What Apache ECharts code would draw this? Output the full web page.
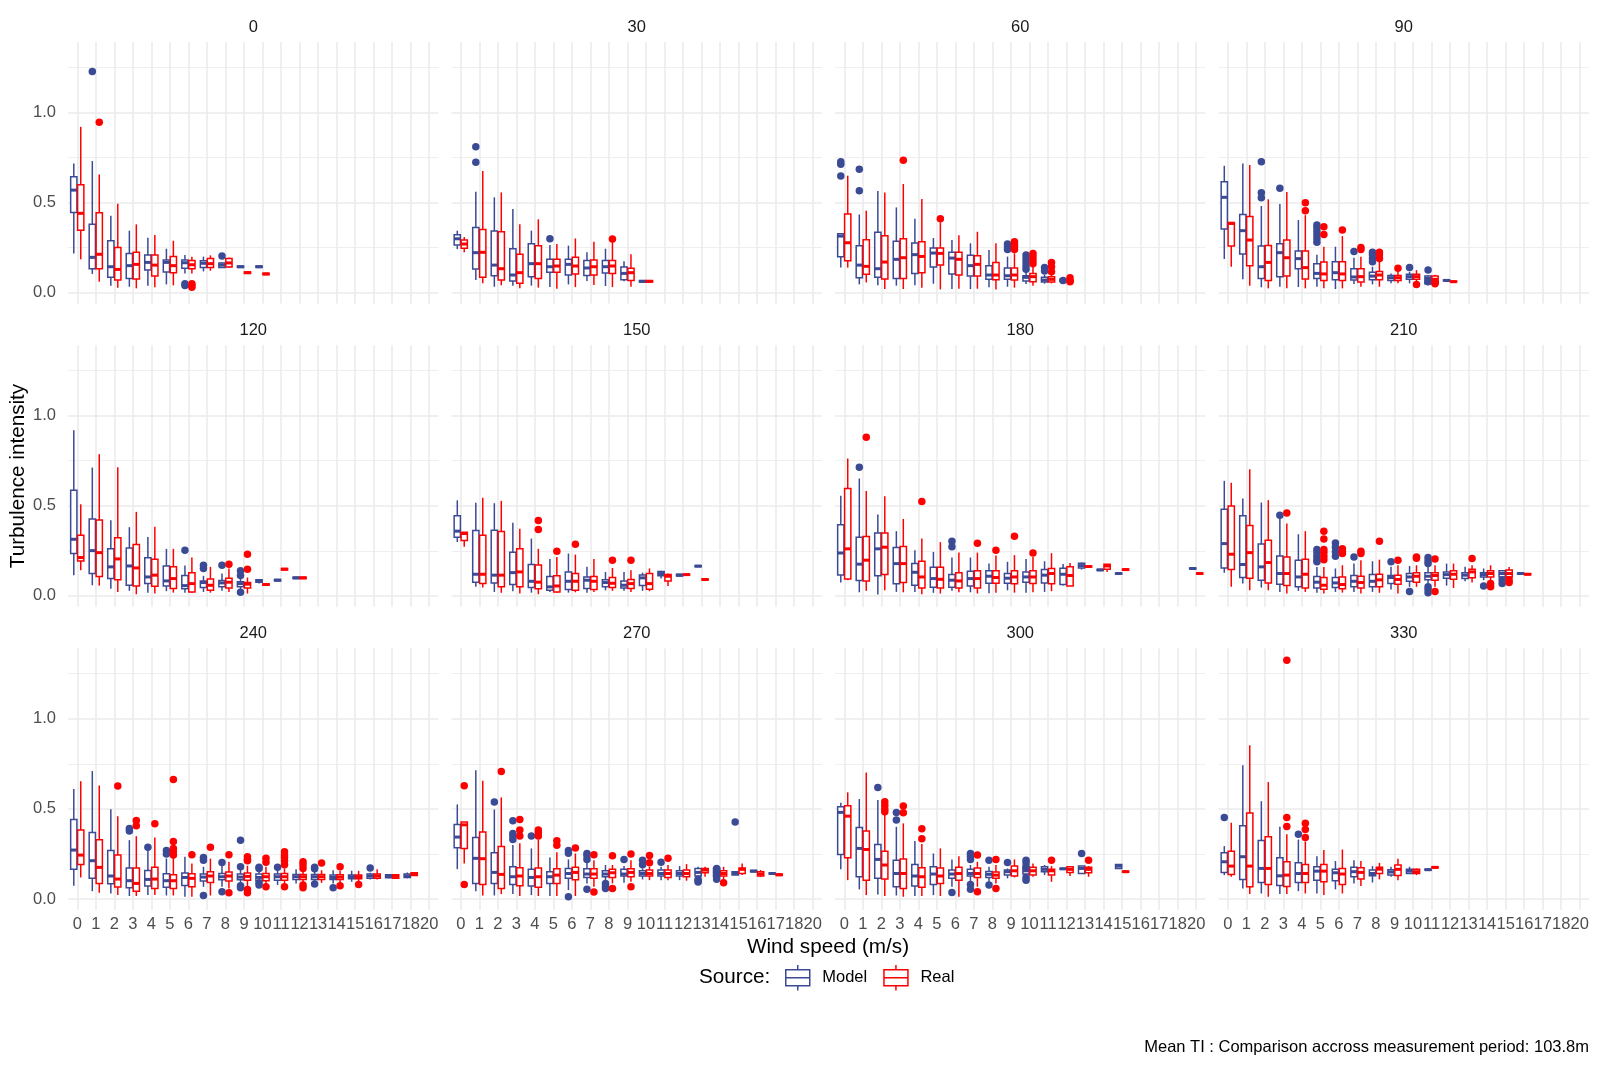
<!DOCTYPE html>
<html>
<head>
<meta charset="utf-8">
<script src="https://cdn.jsdelivr.net/npm/echarts@6/dist/echarts.min.js"></script>
<style>html,body{margin:0;padding:0;background:#fff;}#chart{width:1600px;height:1067px;}</style>
</head>
<body>
<div id="chart"></div>
<script>
// ---------------- DATA ----------------
const directions = ['0', '30', '60', '90', '120', '150', '180', '210', '240', '270', '300', '330'];
const windSpeeds = ['0','1','2','3','4','5','6','7','8','9','10','11','12','13','14','15','16','17','18','20'];
const sources = ['Model', 'Real'];
const yTickValues = [0, 0.5, 1.0];
const yMinorValues = [0.25, 0.75, 1.25];

// Box stats per wind-speed category (index in windSpeeds): [min, Q1, median, Q3, max]; null = no data
const model_0 = [[0.218,0.445,0.569,0.643,0.717],[0.104,0.133,0.196,0.379,0.73],[0.039,0.085,0.144,0.288,0.427],[0.033,0.078,0.15,0.218,0.344],[0.039,0.126,0.168,0.209,0.305],[0.046,0.115,0.168,0.181,0.244],[0.107,0.135,0.166,0.181,0.209],[0.118,0.14,0.163,0.177,0.2],[0.138,0.14,0.153,0.165,0.168],[0.14,0.14,0.144,0.148,0.148],[0.14,0.14,0.144,0.148,0.148]];
const real_0 = [[0.185,0.347,0.44,0.599,0.92],[0.061,0.133,0.213,0.444,0.656],[0.028,0.07,0.129,0.251,0.494],[0.024,0.076,0.157,0.224,0.379],[0.03,0.092,0.153,0.209,0.32],[0.041,0.111,0.15,0.201,0.288],[0.107,0.133,0.155,0.179,0.2],[0.122,0.14,0.161,0.19,0.207],[0.138,0.142,0.165,0.189,0.195],[0.107,0.107,0.111,0.115,0.115],[0.1,0.1,0.104,0.108,0.108]];
const model_30 = [[0.242,0.264,0.299,0.322,0.344],[0.07,0.131,0.222,0.362,0.56],[0.033,0.094,0.153,0.342,0.529],[0.039,0.065,0.098,0.244,0.464],[0.039,0.089,0.161,0.272,0.344],[0.031,0.113,0.144,0.185,0.264],[0.046,0.098,0.157,0.185,0.261],[0.065,0.096,0.137,0.179,0.224],[0.037,0.109,0.144,0.179,0.244],[0.063,0.072,0.107,0.142,0.174],[0.059,0.059,0.063,0.067,0.067]];
const real_30 = [[0.224,0.246,0.27,0.292,0.309],[0.052,0.085,0.224,0.351,0.675],[0.041,0.07,0.133,0.338,0.556],[0.024,0.052,0.111,0.213,0.379],[0.028,0.079,0.161,0.261,0.407],[0.022,0.113,0.148,0.185,0.27],[0.031,0.104,0.148,0.196,0.301],[0.043,0.098,0.144,0.181,0.283],[0.031,0.107,0.148,0.179,0.283],[0.033,0.068,0.111,0.135,0.213],[0.059,0.059,0.063,0.067,0.067]];
const model_60 = [[0.14,0.2,0.314,0.327,0.33],[0.046,0.083,0.153,0.261,0.434],[0.041,0.085,0.133,0.335,0.564],[0.039,0.078,0.185,0.285,0.473],[0.041,0.107,0.211,0.275,0.41],[0.05,0.142,0.22,0.248,0.303],[0.02,0.104,0.192,0.224,0.292],[0.02,0.092,0.15,0.207,0.274],[0.03,0.074,0.098,0.15,0.237],[0.033,0.074,0.094,0.137,0.2],[0.048,0.065,0.085,0.094,0.125],[0.05,0.059,0.07,0.085,0.1],[0.06,0.062,0.067,0.074,0.076]];
const real_60 = [[0.139,0.177,0.277,0.436,0.649],[0.057,0.102,0.146,0.294,0.455],[0.02,0.076,0.17,0.316,0.556],[0.02,0.079,0.194,0.299,0.603],[0.028,0.111,0.201,0.283,0.519],[0.018,0.153,0.218,0.248,0.39],[0.022,0.098,0.185,0.224,0.318],[0.022,0.092,0.157,0.205,0.338],[0.018,0.072,0.098,0.168,0.274],[0.028,0.07,0.098,0.137,0.218],[0.039,0.061,0.089,0.107,0.144],[0.052,0.059,0.074,0.089,0.1],[0.058,0.06,0.065,0.07,0.072]];
const model_90 = [[0.187,0.353,0.529,0.616,0.704],[0.074,0.214,0.344,0.434,0.717],[0.03,0.079,0.144,0.259,0.481],[0.033,0.089,0.222,0.272,0.492],[0.031,0.133,0.189,0.231,0.403],[0.033,0.078,0.107,0.161,0.21],[0.02,0.072,0.111,0.172,0.255],[0.048,0.07,0.087,0.133,0.194],[0.046,0.072,0.092,0.113,0.144],[0.052,0.067,0.083,0.096,0.107],[0.052,0.074,0.089,0.102,0.116],[0.05,0.05,0.079,0.092,0.098],[0.064,0.065,0.068,0.071,0.072]];
const real_90 = [[0.144,0.259,0.384,0.39,0.39],[0.039,0.15,0.292,0.423,0.708],[0.024,0.067,0.168,0.262,0.518],[0.024,0.092,0.194,0.292,0.558],[0.024,0.076,0.139,0.231,0.43],[0.024,0.067,0.104,0.17,0.255],[0.024,0.068,0.104,0.172,0.314],[0.033,0.059,0.089,0.133,0.2],[0.033,0.072,0.098,0.118,0.18],[0.052,0.067,0.083,0.096,0.116],[0.055,0.074,0.089,0.102,0.125],[0.048,0.05,0.074,0.092,0.1],[0.058,0.059,0.061,0.064,0.065]];
const model_120 = [[0.115,0.235,0.314,0.586,0.919],[0.059,0.124,0.251,0.427,0.712],[0.039,0.096,0.161,0.261,0.42],[0.028,0.059,0.166,0.266,0.381],[0.017,0.068,0.105,0.211,0.327],[0.026,0.055,0.083,0.166,0.261],[0.018,0.039,0.057,0.113,0.168],[0.022,0.046,0.074,0.083,0.111],[0.028,0.05,0.072,0.085,0.124],[0.031,0.05,0.068,0.079,0.105],[0.068,0.075,0.083,0.09,0.09],[0.083,0.083,0.087,0.091,0.091],[0.096,0.096,0.1,0.104,0.104]];
const real_120 = [[0.142,0.194,0.213,0.336,0.508],[0.057,0.107,0.24,0.421,0.786],[0.022,0.089,0.205,0.322,0.713],[0.009,0.055,0.155,0.285,0.466],[0.013,0.054,0.115,0.203,0.383],[0.018,0.041,0.096,0.161,0.261],[0.017,0.022,0.068,0.128,0.213],[0.018,0.031,0.059,0.094,0.161],[0.022,0.044,0.076,0.098,0.152],[0.013,0.044,0.065,0.074,0.102],[0.059,0.059,0.063,0.067,0.067],[0.144,0.144,0.148,0.152,0.152],[0.096,0.096,0.1,0.104,0.104]];
const model_150 = [[0.299,0.325,0.359,0.445,0.53],[0.05,0.076,0.12,0.362,0.516],[0.022,0.072,0.115,0.364,0.514],[0.026,0.063,0.129,0.242,0.405],[0.018,0.046,0.081,0.174,0.318],[0.022,0.031,0.05,0.107,0.205],[0.018,0.035,0.081,0.133,0.235],[0.018,0.041,0.087,0.105,0.161],[0.031,0.05,0.074,0.089,0.133],[0.028,0.044,0.059,0.083,0.133],[0.028,0.057,0.1,0.116,0.129],[0.096,0.111,0.124,0.135,0.139],[0.108,0.11,0.115,0.12,0.122],[0.161,0.162,0.165,0.168,0.169]];
const real_150 = [[0.272,0.307,0.346,0.353,0.353],[0.046,0.068,0.12,0.336,0.545],[0.017,0.05,0.115,0.357,0.527],[0.013,0.05,0.133,0.262,0.373],[0.009,0.039,0.076,0.172,0.261],[0.018,0.022,0.055,0.111,0.216],[0.02,0.031,0.081,0.124,0.229],[0.022,0.035,0.081,0.107,0.205],[0.028,0.046,0.07,0.102,0.155],[0.022,0.041,0.068,0.091,0.142],[0.026,0.037,0.068,0.124,0.152],[0.055,0.083,0.109,0.118,0.124],[0.116,0.116,0.118,0.12,0.12],[0.087,0.088,0.091,0.094,0.095]];
const model_180 = [[0.074,0.116,0.238,0.394,0.555],[0.02,0.085,0.176,0.325,0.651],[0.007,0.111,0.261,0.349,0.451],[0.022,0.067,0.179,0.268,0.359],[0.022,0.059,0.131,0.179,0.253],[0.017,0.048,0.096,0.159,0.244],[0.028,0.048,0.087,0.118,0.213],[0.02,0.055,0.096,0.137,0.213],[0.015,0.07,0.109,0.139,0.179],[0.031,0.07,0.098,0.124,0.189],[0.017,0.076,0.105,0.133,0.205],[0.022,0.072,0.115,0.146,0.192],[0.057,0.063,0.12,0.153,0.177],[0.146,0.155,0.168,0.181,0.185],[0.14,0.141,0.144,0.147,0.148],[0.12,0.121,0.124,0.127,0.128],null,null,null,[0.148,0.149,0.152,0.155,0.156]];
const real_180 = [[0.087,0.094,0.261,0.595,0.762],[0.028,0.083,0.198,0.329,0.582],[0.031,0.118,0.27,0.349,0.553],[0.02,0.074,0.179,0.274,0.427],[0.009,0.044,0.105,0.192,0.318],[0.013,0.044,0.092,0.159,0.298],[0.02,0.044,0.083,0.128,0.24],[0.013,0.044,0.096,0.14,0.24],[0.018,0.07,0.102,0.14,0.224],[0.018,0.067,0.105,0.14,0.226],[0.02,0.068,0.105,0.139,0.216],[0.026,0.067,0.124,0.152,0.237],[0.055,0.055,0.113,0.161,0.183],[0.159,0.16,0.163,0.166,0.167],[0.133,0.148,0.166,0.176,0.176],[0.142,0.143,0.146,0.149,0.15],null,null,null,[0.12,0.121,0.124,0.127,0.128]];
const model_210 = [[0.128,0.155,0.29,0.481,0.638],[0.068,0.102,0.174,0.444,0.54],[0.046,0.087,0.161,0.288,0.518],[0.022,0.065,0.124,0.221,0.43],[0.028,0.05,0.105,0.198,0.342],[0.017,0.044,0.076,0.107,0.16],[0.022,0.046,0.072,0.102,0.152],[0.022,0.05,0.081,0.113,0.179],[0.022,0.05,0.081,0.118,0.192],[0.035,0.068,0.102,0.113,0.161],[0.05,0.081,0.105,0.124,0.166],[0.068,0.09,0.109,0.128,0.161],[0.057,0.098,0.118,0.133,0.179],[0.081,0.096,0.115,0.129,0.161],[0.087,0.105,0.118,0.129,0.152],[0.09,0.105,0.124,0.139,0.143],[0.12,0.121,0.124,0.127,0.128]];
const real_210 = [[0.05,0.146,0.231,0.499,0.628],[0.031,0.098,0.24,0.39,0.702],[0.031,0.072,0.185,0.309,0.531],[0.013,0.057,0.124,0.216,0.401],[0.022,0.044,0.12,0.203,0.359],[0.013,0.037,0.059,0.102,0.16],[0.018,0.039,0.063,0.105,0.17],[0.013,0.044,0.074,0.109,0.198],[0.017,0.05,0.089,0.12,0.201],[0.013,0.065,0.091,0.115,0.17],[0.05,0.076,0.109,0.128,0.17],[0.05,0.087,0.113,0.129,0.17],[0.044,0.092,0.12,0.139,0.179],[0.074,0.1,0.133,0.148,0.17],[0.078,0.105,0.124,0.139,0.17],[0.096,0.105,0.124,0.144,0.16],[0.116,0.117,0.12,0.123,0.124]];
const model_240 = [[0.074,0.166,0.272,0.442,0.61],[0.044,0.115,0.213,0.37,0.71],[0.031,0.085,0.128,0.27,0.499],[0.017,0.063,0.102,0.172,0.327],[0.022,0.072,0.109,0.159,0.27],[0.02,0.065,0.102,0.14,0.225],[0.013,0.076,0.12,0.144,0.235],[0.068,0.1,0.122,0.139,0.179],[0.068,0.107,0.124,0.142,0.183],[0.081,0.107,0.122,0.139,0.165],[0.08,0.102,0.12,0.139,0.16],[0.078,0.105,0.124,0.139,0.17],[0.087,0.109,0.124,0.137,0.165],[0.09,0.109,0.124,0.137,0.16],[0.087,0.109,0.12,0.133,0.16],[0.096,0.113,0.124,0.133,0.157],[0.109,0.116,0.128,0.139,0.146],[0.115,0.118,0.128,0.135,0.139],[0.115,0.12,0.128,0.139,0.148]];
const real_240 = [[0.12,0.192,0.244,0.383,0.654],[0.035,0.087,0.176,0.329,0.63],[0.022,0.067,0.111,0.244,0.46],[0.017,0.044,0.087,0.172,0.349],[0.022,0.059,0.111,0.177,0.342],[0.02,0.059,0.102,0.135,0.229],[0.013,0.068,0.115,0.14,0.198],[0.02,0.092,0.128,0.152,0.224],[0.059,0.1,0.128,0.15,0.207],[0.07,0.104,0.126,0.144,0.185],[0.075,0.102,0.124,0.142,0.18],[0.078,0.105,0.124,0.142,0.17],[0.08,0.109,0.124,0.137,0.165],[0.09,0.109,0.124,0.137,0.16],[0.087,0.109,0.122,0.135,0.157],[0.096,0.113,0.124,0.133,0.157],[0.109,0.116,0.128,0.139,0.165],[0.114,0.116,0.126,0.135,0.137],[0.129,0.131,0.139,0.146,0.148]];
const model_270 = [[0.166,0.285,0.344,0.414,0.525],[0.044,0.087,0.226,0.342,0.715],[0.02,0.087,0.148,0.257,0.497],[0.028,0.081,0.124,0.179,0.3],[0.022,0.072,0.12,0.166,0.281],[0.017,0.087,0.124,0.152,0.231],[0.05,0.115,0.142,0.17,0.22],[0.087,0.12,0.139,0.168,0.207],[0.096,0.124,0.139,0.157,0.189],[0.091,0.128,0.139,0.165,0.183],[0.109,0.128,0.142,0.157,0.17],[0.105,0.128,0.142,0.161,0.179],[0.105,0.128,0.142,0.157,0.183],[0.105,0.128,0.148,0.17,0.179],[0.109,0.124,0.142,0.17,0.179],[0.133,0.133,0.142,0.152,0.152],[0.15,0.151,0.155,0.159,0.16],[0.138,0.139,0.142,0.145,0.146]];
const real_270 = [[0.198,0.281,0.412,0.427,0.427],[0.02,0.081,0.224,0.372,0.656],[0.028,0.059,0.137,0.292,0.564],[0.017,0.074,0.128,0.174,0.31],[0.017,0.065,0.124,0.172,0.33],[0.017,0.087,0.133,0.168,0.26],[0.017,0.107,0.148,0.176,0.253],[0.068,0.115,0.139,0.168,0.216],[0.087,0.12,0.146,0.165,0.189],[0.096,0.124,0.148,0.168,0.216],[0.105,0.128,0.142,0.161,0.18],[0.105,0.12,0.142,0.161,0.189],[0.102,0.124,0.142,0.161,0.194],[0.124,0.146,0.161,0.17,0.179],[0.105,0.128,0.142,0.157,0.179],[0.133,0.142,0.165,0.172,0.198],[0.124,0.128,0.139,0.152,0.161],[0.13,0.131,0.135,0.139,0.14]];
const model_300 = [[0.165,0.248,0.481,0.512,0.534],[0.054,0.124,0.281,0.397,0.555],[0.026,0.115,0.22,0.303,0.549],[0.02,0.068,0.142,0.216,0.401],[0.017,0.072,0.128,0.192,0.322],[0.022,0.081,0.139,0.179,0.253],[0.068,0.115,0.139,0.161,0.22],[0.096,0.128,0.142,0.165,0.189],[0.096,0.12,0.137,0.153,0.179],[0.115,0.133,0.152,0.161,0.17],[0.13,0.139,0.157,0.176,0.18],[0.133,0.152,0.165,0.179,0.189],[0.164,0.165,0.168,0.171,0.172],[0.142,0.142,0.17,0.183,0.183],null,[0.17,0.17,0.183,0.192,0.192]];
const real_300 = [[0.105,0.229,0.46,0.518,0.592],[0.022,0.105,0.275,0.377,0.702],[0.017,0.111,0.189,0.266,0.47],[0.013,0.059,0.142,0.222,0.42],[0.017,0.065,0.124,0.174,0.305],[0.017,0.087,0.128,0.172,0.281],[0.013,0.105,0.142,0.177,0.238],[0.068,0.12,0.142,0.172,0.207],[0.087,0.115,0.133,0.15,0.189],[0.12,0.128,0.157,0.183,0.22],[0.124,0.133,0.157,0.176,0.198],[0.096,0.133,0.157,0.166,0.183],[0.128,0.148,0.165,0.179,0.183],[0.124,0.146,0.165,0.176,0.183],null,[0.148,0.149,0.152,0.155,0.156]];
const model_330 = [[0.133,0.148,0.207,0.257,0.294],[0.059,0.109,0.235,0.407,0.743],[0.031,0.092,0.17,0.325,0.543],[0.028,0.076,0.129,0.229,0.401],[0.044,0.092,0.142,0.201,0.33],[0.031,0.105,0.155,0.179,0.238],[0.054,0.102,0.146,0.165,0.211],[0.087,0.124,0.152,0.176,0.216],[0.092,0.129,0.142,0.161,0.183],[0.124,0.133,0.15,0.163,0.179],[0.139,0.142,0.155,0.166,0.179],[0.159,0.16,0.163,0.166,0.167]];
const real_330 = [[0.124,0.137,0.183,0.266,0.423],[0.028,0.068,0.183,0.477,0.854],[0.013,0.081,0.17,0.346,0.649],[0.028,0.07,0.133,0.207,0.36],[0.031,0.092,0.142,0.192,0.32],[0.022,0.096,0.155,0.192,0.272],[0.031,0.081,0.139,0.17,0.275],[0.072,0.111,0.148,0.174,0.211],[0.109,0.142,0.166,0.176,0.201],[0.105,0.131,0.165,0.189,0.224],[0.133,0.142,0.152,0.165,0.17],[0.172,0.173,0.176,0.179,0.18]];

// Outliers: [wind-speed category index, value]
const modelOut_0 = [[1,1.227],[6,0.05],[6,0.04],[8,0.203]];
const realOut_0 = [[1,0.946],[6,0.05],[6,0.03],[6,0.04]];
const modelOut_30 = [[1,0.81],[1,0.723],[5,0.299]];
const realOut_30 = [[8,0.298]];
const modelOut_60 = [[0,0.726],[0,0.713],[0,0.647],[1,0.684],[1,0.566],[9,0.27],[9,0.255],[9,0.24],[10,0.209],[10,0.19],[10,0.17],[10,0.15],[10,0.13],[11,0.14],[11,0.12],[12,0.067]];
const realOut_60 = [[3,0.734],[5,0.41],[9,0.283],[9,0.27],[9,0.26],[9,0.25],[9,0.24],[10,0.218],[10,0.2],[10,0.18],[10,0.16],[11,0.168],[11,0.144],[11,0.116],[12,0.083],[12,0.06]];
const modelOut_90 = [[2,0.726],[2,0.555],[2,0.527],[3,0.579],[5,0.375],[5,0.36],[5,0.34],[5,0.32],[5,0.3],[5,0.28],[7,0.229],[8,0.224],[8,0.21],[8,0.19],[8,0.172],[10,0.14],[11,0.126],[11,0.061]];
const realOut_90 = [[4,0.499],[4,0.455],[5,0.366],[5,0.323],[6,0.348],[7,0.25],[7,0.24],[8,0.224],[8,0.21],[8,0.19],[9,0.135],[10,0.046],[11,0.059],[11,0.05]];
const modelOut_120 = [[6,0.253],[7,0.17],[7,0.152],[8,0.17],[9,0.139],[9,0.113],[9,0.02]];
const realOut_120 = [[8,0.176],[9,0.231],[9,0.148]];
const modelOut_150 = [];
const realOut_150 = [[4,0.418],[4,0.368],[5,0.248],[6,0.287],[8,0.198],[9,0.198]];
const modelOut_180 = [[1,0.713],[6,0.303],[6,0.272]];
const realOut_180 = [[1,0.88],[4,0.523],[7,0.292],[8,0.253],[9,0.331],[10,0.238]];
const modelOut_210 = [[3,0.447],[5,0.257],[5,0.24],[5,0.22],[5,0.2],[5,0.19],[6,0.294],[6,0.27],[6,0.245],[6,0.22],[7,0.216],[9,0.189],[10,0.024],[11,0.213],[11,0.195],[11,0.18],[11,0.05],[11,0.035],[11,0.017],[14,0.055],[15,0.09],[15,0.068]];
const realOut_210 = [[3,0.46],[5,0.359],[5,0.316],[5,0.257],[5,0.24],[5,0.22],[5,0.2],[6,0.262],[6,0.245],[6,0.235],[7,0.248],[7,0.235],[8,0.303],[9,0.198],[10,0.216],[10,0.209],[11,0.205],[11,0.024],[13,0.207],[14,0.068],[14,0.05],[15,0.09],[15,0.074]];
const modelOut_240 = [[3,0.392],[3,0.377],[4,0.288],[5,0.27],[5,0.25],[7,0.231],[7,0.216],[7,0.02],[8,0.203],[8,0.041],[9,0.327],[9,0.179],[9,0.074],[9,0.063],[10,0.176],[10,0.17],[10,0.09],[10,0.078],[11,0.176],[13,0.176],[13,0.168],[13,0.083],[14,0.063],[16,0.172]];
const realOut_240 = [[2,0.627],[3,0.436],[3,0.407],[4,0.418],[5,0.664],[5,0.32],[5,0.28],[5,0.262],[5,0.244],[6,0.246],[7,0.287],[8,0.246],[8,0.035],[9,0.235],[9,0.22],[9,0.212],[9,0.053],[9,0.035],[10,0.226],[10,0.205],[10,0.068],[11,0.262],[11,0.245],[11,0.23],[11,0.212],[11,0.19],[11,0.068],[12,0.207],[12,0.19],[12,0.17],[12,0.078],[12,0.063],[13,0.2],[14,0.179],[14,0.074],[15,0.081]];
const modelOut_270 = [[2,0.538],[3,0.434],[3,0.364],[3,0.35],[3,0.33],[4,0.35],[6,0.27],[6,0.254],[6,0.013],[7,0.253],[7,0.24],[7,0.22],[7,0.054],[8,0.087],[8,0.07],[8,0.059],[9,0.22],[10,0.216],[10,0.19],[11,0.205],[13,0.11],[13,0.1],[13,0.095],[14,0.17],[14,0.15],[14,0.13],[14,0.11],[15,0.427]];
const realOut_270 = [[0,0.628],[0,0.081],[2,0.708],[3,0.442],[3,0.383],[3,0.35],[4,0.383],[4,0.37],[4,0.35],[5,0.323],[5,0.298],[6,0.283],[7,0.246],[7,0.039],[8,0.24],[8,0.059],[9,0.25],[9,0.068],[10,0.242],[10,0.201],[11,0.226],[14,0.09]];
const modelOut_300 = [[2,0.619],[3,0.48],[3,0.438],[6,0.037],[7,0.253],[7,0.238],[7,0.22],[7,0.081],[7,0.054],[8,0.216],[8,0.078],[9,0.203],[10,0.216],[10,0.2],[10,0.18],[10,0.12],[10,0.105],[13,0.253]];
const realOut_300 = [[2,0.54],[2,0.52],[2,0.5],[2,0.485],[3,0.516],[3,0.479],[4,0.39],[4,0.335],[7,0.244],[7,0.041],[8,0.22],[8,0.059],[11,0.216],[13,0.216]];
const modelOut_330 = [[0,0.453],[4,0.359]];
const realOut_330 = [[3,1.325],[3,0.453],[3,0.403],[4,0.42],[4,0.386],[4,0.342]];

const modelBoxes = [model_0, model_30, model_60, model_90, model_120, model_150, model_180, model_210, model_240, model_270, model_300, model_330];
const realBoxes = [real_0, real_30, real_60, real_90, real_120, real_150, real_180, real_210, real_240, real_270, real_300, real_330];
const modelOutliers = [modelOut_0, modelOut_30, modelOut_60, modelOut_90, modelOut_120, modelOut_150, modelOut_180, modelOut_210, modelOut_240, modelOut_270, modelOut_300, modelOut_330];
const realOutliers = [realOut_0, realOut_30, realOut_60, realOut_90, realOut_120, realOut_150, realOut_180, realOut_210, realOut_240, realOut_270, realOut_300, realOut_330];

// ---------------- STYLE / LAYOUT ----------------
const FONT = '"Liberation Sans", Arial, sans-serif';
const COLORS = { Model: '#3B4A94', Real: '#FF0000' };
const GRID_COLOR = '#EBEBEB';
const GRID_W = 1.6, MINOR_W = 0.8;
const LW = 1.5;
const GRID_LEFT0 = 68.0, GRID_STEP_X = 383.5, GRID_W_PX = 370.5;
const GRID_TOP0 = 42.1, GRID_STEP_Y = 303.2, GRID_H_PX = 261.4;
const Y_MIN = -0.06, Y_MAX = 1.39;
const DODGE = 0.1875, BOXW = 0.3375; // in category units
const TICK_FS = 16.5, STRIP_FS = 16.5, TITLE_FS = 20.7;
const KEY = 32;

const chart = echarts.init(document.getElementById('chart'), null, { renderer: 'canvas' });

function makeRender(color, side) {
  return function (params, api) {
    const c = api.value(0);
    const band = api.size([1, 0])[0];
    const cx = api.coord([c, 0])[0] + side * band * DODGE;
    const half = band * BOXW / 2;
    const yy = k => api.coord([c, api.value(k)])[1];
    const yMin = yy(1), yQ1 = yy(2), yMed = yy(3), yQ3 = yy(4), yMax = yy(5);
    return {
      type: 'group',
      children: [
        { type: 'line', shape: { x1: cx, y1: yMax, x2: cx, y2: yQ3 }, style: { stroke: color, lineWidth: LW } },
        { type: 'line', shape: { x1: cx, y1: yQ1, x2: cx, y2: yMin }, style: { stroke: color, lineWidth: LW } },
        { type: 'rect', shape: { x: cx - half, y: yQ3, width: 2 * half, height: Math.max(yQ1 - yQ3, 0.3) }, style: { fill: '#ffffff', stroke: color, lineWidth: LW } },
        { type: 'line', shape: { x1: cx - half, y1: yMed, x2: cx + half, y2: yMed }, style: { stroke: color, lineWidth: LW * 2 } }
      ]
    };
  };
}

function boxItems(arr) {
  const out = [];
  arr.forEach((b, i) => { if (b) out.push([i].concat(b)); });
  return out;
}

const grids = [], xAxes = [], yAxes = [], series = [], graphics = [];
const band = GRID_W_PX / windSpeeds.length;

directions.forEach((dir, g) => {
  const row = Math.floor(g / 4), col = g % 4;
  const left = GRID_LEFT0 + col * GRID_STEP_X;
  const top = GRID_TOP0 + row * GRID_STEP_Y;
  grids.push({ left: left, top: top, width: GRID_W_PX, height: GRID_H_PX, containLabel: false, outerBoundsMode: 'none' });
  xAxes.push({
    type: 'category', gridIndex: g, data: windSpeeds, boundaryGap: true,
    axisLine: { show: false }, axisTick: { show: false }, splitLine: { show: false },
    axisLabel: { show: row === 2, interval: 0, margin: 6, fontSize: TICK_FS, color: '#4D4D4D', fontFamily: FONT }
  });
  yAxes.push({
    type: 'value', gridIndex: g, min: Y_MIN, max: Y_MAX, minInterval: 0.5, maxInterval: 0.5,
    axisLine: { show: false }, axisTick: { show: false }, splitLine: { show: false },
    axisLabel: {
      show: col === 0, margin: 12, fontSize: TICK_FS, color: '#4D4D4D', fontFamily: FONT,
      formatter: v => { const r = Math.round(v * 2) / 2; return Math.abs(v - r) < 1e-6 ? r.toFixed(1) : ''; }
    }
  });
  const gridLines = windSpeeds.map((w, i) => ({ xAxis: i }))
    .concat(yTickValues.map(v => ({ yAxis: v })))
    .concat(yMinorValues.map(v => ({ yAxis: v, lineStyle: { width: MINOR_W } })));
  series.push({
    type: 'custom', name: 'Model', xAxisIndex: g, yAxisIndex: g, z: 2, silent: true, animation: false,
    data: boxItems(modelBoxes[g]), encode: { x: 0, y: [1, 2, 3, 4, 5] },
    renderItem: makeRender(COLORS.Model, -1),
    markLine: {
      silent: true, z: 1, animation: false, symbol: ['none', 'none'], label: { show: false },
      lineStyle: { color: GRID_COLOR, width: GRID_W, type: 'solid' },
      emphasis: { disabled: true },
      data: gridLines
    }
  });
  series.push({
    type: 'custom', name: 'Real', xAxisIndex: g, yAxisIndex: g, z: 2, silent: true, animation: false,
    data: boxItems(realBoxes[g]), encode: { x: 0, y: [1, 2, 3, 4, 5] },
    renderItem: makeRender(COLORS.Real, 1)
  });
  series.push({
    type: 'scatter', name: 'Model', xAxisIndex: g, yAxisIndex: g, z: 3, silent: true, animation: false,
    data: modelOutliers[g], symbolSize: 7.5, symbolOffset: [-band * DODGE, 0],
    itemStyle: { color: COLORS.Model, opacity: 1 }, clip: false
  });
  series.push({
    type: 'scatter', name: 'Real', xAxisIndex: g, yAxisIndex: g, z: 3, silent: true, animation: false,
    data: realOutliers[g], symbolSize: 7.5, symbolOffset: [band * DODGE, 0],
    itemStyle: { color: COLORS.Real, opacity: 1 }, clip: false
  });
  graphics.push({
    type: 'text', x: left + GRID_W_PX / 2, y: top - 14.8, silent: true,
    style: { text: dir, align: 'center', verticalAlign: 'middle', fontSize: STRIP_FS, fontFamily: FONT, fill: '#1A1A1A' }
  });
});

graphics.push({
  type: 'text', x: 828, y: 947, silent: true,
  style: { text: 'Wind speed (m/s)', align: 'center', verticalAlign: 'middle', fontSize: TITLE_FS, fontFamily: FONT, fill: '#000000' }
});
graphics.push({
  type: 'text', x: 18, y: 476, rotation: Math.PI / 2, silent: true,
  style: { text: 'Turbulence intensity', align: 'center', verticalAlign: 'middle', fontSize: TITLE_FS, fontFamily: FONT, fill: '#000000' }
});
graphics.push({
  type: 'text', x: 699, y: 977, silent: true,
  style: { text: 'Source:', align: 'left', verticalAlign: 'middle', fontSize: TITLE_FS, fontFamily: FONT, fill: '#000000' }
});
graphics.push({
  type: 'text', x: 1589, y: 1047, silent: true,
  style: { text: 'Mean TI : Comparison accross measurement period: 103.8m', align: 'right', verticalAlign: 'middle', fontSize: 16.5, fontFamily: FONT, fill: '#000000' }
});

// ggplot boxplot key glyph in a 40x40 frame (corner moves fix the bounding box)
const boxIcon = 'path://M0,0M40,40M20,4L20,10M5,10L35,10L35,30L5,30ZM5,20L35,20M20,30L20,36';

chart.setOption({
  backgroundColor: '#ffffff',
  animation: false,
  textStyle: { fontFamily: FONT },
  grid: grids,
  xAxis: xAxes,
  yAxis: yAxes,
  legend: {
    left: 781, top: 977 - KEY / 2, padding: 0, orient: 'horizontal', itemWidth: KEY, itemHeight: KEY, itemGap: 12,
    symbolKeepAspect: false, selectedMode: false,
    textStyle: { fontSize: 16.5, color: '#000000', fontFamily: FONT, padding: [0, 0, 0, 3.5] },
    data: sources.map(s => ({ name: s, icon: boxIcon, itemStyle: { color: '#ffffff', borderColor: COLORS[s], borderWidth: 1.5 } }))
  },
  graphic: graphics,
  series: series
});
</script>
</body>
</html>
